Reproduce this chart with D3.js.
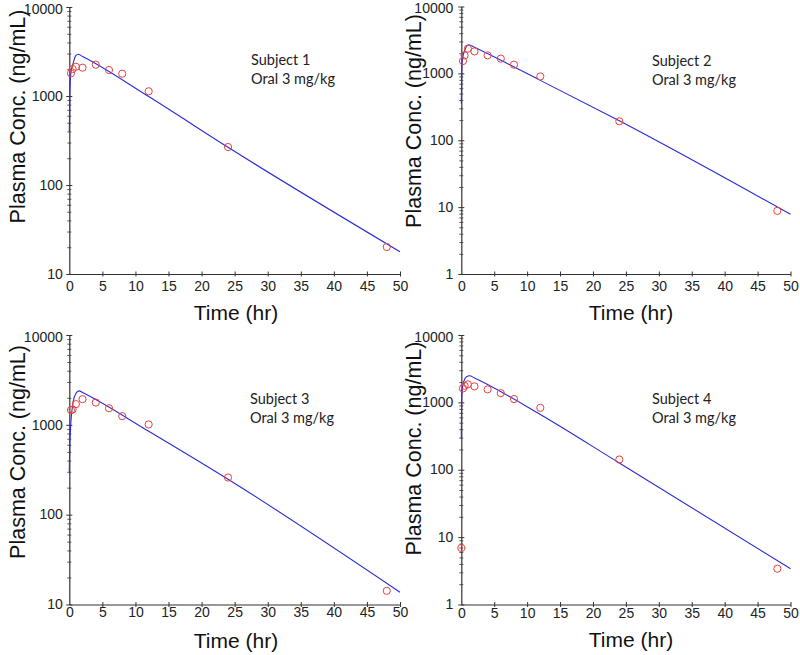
<!DOCTYPE html>
<html><head><meta charset="utf-8">
<script src="https://cdn.jsdelivr.net/npm/d3@7"></script>
<style>
html,body{margin:0;padding:0;background:#fff;}
svg{display:block;}
</style></head>
<body>
<svg id="chart" width="800" height="655"></svg>
<script>
// ---------- data ----------
const subjectLabels = ["Subject 1", "Subject 2", "Subject 3", "Subject 4"];
const doseLabel = "Oral 3 mg/kg";
const xTitle = "Time (hr)";
const yTitle = "Plasma Conc. (ng/mL)";
const xTicks = [0, 5, 10, 15, 20, 25, 30, 35, 40, 45, 50];
const yTicksTop = [10, 100, 1000, 10000];
const yTicksWide = [1, 10, 100, 1000, 10000];

// observed samples
const obsTime = [0.25, 0.5, 1, 2, 4, 6, 8, 12, 24, 48];
const obsTime4 = [0, 0.25, 0.5, 1, 2, 4, 6, 8, 12, 24, 48];
const obs1 = [1800, 2010, 2130, 2080, 2250, 1960, 1780, 1130, 267, 20.1];
const obs2 = [1530, 1860, 2340, 2130, 1860, 1660, 1350, 900, 192, 8.8];
const obs3 = [1460, 1480, 1700, 1930, 1770, 1530, 1250, 1010, 259, 14.2];
const obs4 = [6.9, 1610, 1760, 1850, 1730, 1560, 1370, 1120, 830, 142, 3.4];

// model-predicted curves
const fitTime1 = [0, 0.08, 0.23, 0.58, 0.98, 1.33, 2, 12, 24, 50];
const fit1 = [400, 1000, 1800, 2330, 2840, 2940, 2780, 985, 265, 17.8];
const fitTime2 = [0, 0.05, 0.15, 0.5, 1.16, 2, 12, 24, 50];
const fit2 = [353, 840, 1560, 2200, 2680, 2450, 786, 195, 7.8];
const fitTime3 = [0, 0.1, 0.58, 1, 1.48, 2, 12, 24, 50];
const fit3 = [300, 705, 1800, 2240, 2390, 2290, 849, 248, 13.7];
const fitTime4 = [0, 0.03, 0.08, 0.35, 0.8, 1.26, 2, 12, 24, 50];
const fit4 = [291, 720, 1280, 2020, 2400, 2480, 2300, 662, 126, 3.4];

// ---------- layout ----------
const panels = [
  {obsT: obsTime, obs: obs1, fitT: fitTime1, fit: fit1, yMin: 10, yTicks: yTicksTop,
   x0: 69.3, x1: 400, top: 7, bottom: 274, label: subjectLabels[0],
   annX: 251, annY: 65, yTitleX: 25, yTitleY: 116.5, xTitleX: 236, xTitleY: 319.5, tickLblY: 290.5, yLblGap: 6.5},
  {obsT: obsTime, obs: obs2, fitT: fitTime2, fit: fit2, yMin: 1, yTicks: yTicksWide,
   x0: 461.3, x1: 790.5, top: 6.5, bottom: 274, label: subjectLabels[1],
   annX: 652, annY: 66, yTitleX: 420.7, yTitleY: 121, xTitleX: 631, xTitleY: 319.5, tickLblY: 290.5, yLblGap: 8},
  {obsT: obsTime, obs: obs3, fitT: fitTime3, fit: fit3, yMin: 10, yTicks: yTicksTop,
   x0: 69.3, x1: 400, top: 335, bottom: 604.5, label: subjectLabels[2],
   annX: 250, annY: 404, yTitleX: 25, yTitleY: 452, xTitleX: 236, xTitleY: 648, tickLblY: 616.5, yLblGap: 6.5},
  {obsT: obsTime4, obs: obs4, fitT: fitTime4, fit: fit4, yMin: 1, yTicks: yTicksWide,
   x0: 461.3, x1: 790.5, top: 335, bottom: 604.5, label: subjectLabels[3],
   annX: 652, annY: 404, yTitleX: 421, yTitleY: 448.5, xTitleX: 631, xTitleY: 647, tickLblY: 617.5, yLblGap: 8}
];

const svg = d3.select("#chart");
const axisColor = "#333";
const lineColor = "#2a2ad8";
const markColor = "#e8413c";

panels.forEach(p => {
  const x = d3.scaleLinear().domain([0, 50]).range([p.x0, p.x1]);
  const y = d3.scaleLog().domain([p.yMin, 10000]).range([p.bottom, p.top]);
  const g = svg.append("g");

  // minor ticks
  const minors = [];
  for (let e = Math.log10(p.yMin); e < 4; e++) {
    for (let m = 2; m <= 9; m++) minors.push(m * Math.pow(10, e));
  }
  const minorAxis = g.append("g")
    .attr("transform", `translate(${p.x0},0)`)
    .call(d3.axisLeft(y).tickValues(minors).tickSize(0).tickFormat(""));
  minorAxis.select(".domain").remove();
  minorAxis.selectAll(".tick line").attr("x1", -2).attr("x2", 2).attr("stroke", axisColor).attr("stroke-width", 0.8);

  // y axis
  const yAxis = g.append("g")
    .attr("transform", `translate(${p.x0},0)`)
    .call(d3.axisLeft(y).tickValues(p.yTicks).tickSizeOuter(0).tickSize(0).tickPadding(p.yLblGap).tickFormat(d3.format("d")));
  yAxis.select(".domain").attr("stroke", axisColor).attr("stroke-width", 1.2);
  yAxis.selectAll(".tick line").attr("x1", -3).attr("x2", 3).attr("stroke", axisColor).attr("stroke-width", 1);
  yAxis.selectAll(".tick text").attr("font-family", "Liberation Sans, Arial, sans-serif")
    .attr("font-size", 14).attr("fill", "#222")
    .attr("dy", d => d === 10000 ? "0.45em" : "0.3em");

  // x axis
  const xAxis = g.append("g")
    .attr("transform", `translate(0,${p.bottom})`)
    .call(d3.axisBottom(x).tickValues(xTicks).tickSizeOuter(0).tickSize(0).tickPadding(0));
  xAxis.select(".domain").attr("stroke", axisColor).attr("stroke-width", 1.2);
  xAxis.selectAll(".tick line").attr("y1", -2.5).attr("y2", 2.5).attr("stroke", axisColor).attr("stroke-width", 1)
    .filter(d => d === 0).remove();
  xAxis.selectAll(".tick text").attr("font-family", "Liberation Sans, Arial, sans-serif")
    .attr("font-size", 14).attr("fill", "#222").attr("dy", null)
    .attr("y", p.tickLblY - p.bottom);

  // model line
  const pts = p.fitT.map((t, i) => [t, p.fit[i]]);
  g.append("path")
    .datum(pts)
    .attr("fill", "none")
    .attr("stroke", lineColor)
    .attr("stroke-width", 1.1)
    .attr("d", d3.line().x(d => x(d[0])).y(d => y(d[1])).curve(d3.curveMonotoneX));

  // observations
  g.selectAll("circle.obs")
    .data(p.obsT.map((t, i) => [t, p.obs[i]]))
    .enter().append("circle")
    .attr("class", "obs")
    .attr("cx", d => x(d[0]))
    .attr("cy", d => y(d[1]))
    .attr("r", 3.6)
    .attr("fill", "none")
    .attr("stroke", markColor)
    .attr("stroke-width", 1);

  // annotation
  const ann = g.append("text")
    .attr("font-family", "Lato, 'Open Sans', sans-serif")
    .attr("font-size", 14.5)
    .attr("fill", "#222");
  ann.append("tspan").attr("x", p.annX).attr("y", p.annY).text(p.label);
  ann.append("tspan").attr("x", p.annX).attr("y", p.annY + 18.5).text(doseLabel);

  // axis titles
  g.append("text")
    .attr("transform", `translate(${p.yTitleX},${p.yTitleY}) rotate(-90)`)
    .attr("text-anchor", "middle")
    .attr("font-family", "Liberation Sans, Arial, sans-serif")
    .attr("font-size", 21.5)
    .attr("fill", "#111")
    .text(yTitle);
  g.append("text")
    .attr("x", p.xTitleX)
    .attr("y", p.xTitleY)
    .attr("text-anchor", "middle")
    .attr("font-family", "Liberation Sans, Arial, sans-serif")
    .attr("font-size", 21)
    .attr("fill", "#111")
    .text(xTitle);
});
</script>
</body></html>
